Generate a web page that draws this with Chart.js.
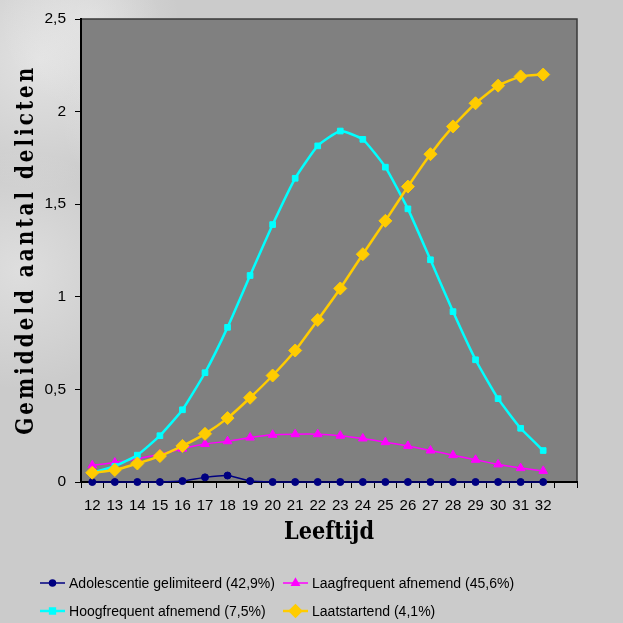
<!DOCTYPE html>
<html><head><meta charset="utf-8">
<script src="https://cdn.jsdelivr.net/npm/chart.js@4/dist/chart.umd.min.js"></script>
<style>html,body{margin:0;padding:0;background:#cccccc;}canvas{display:block;}</style>
</head><body>
<canvas id="c" width="623" height="623"></canvas>
<script>
const ages = ['12','13','14','15','16','17','18','19','20','21','22','23','24','25','26','27','28','29','30','31','32',''];
const adolescentie = [0,0,0,0,0.005,0.025,0.035,0.005,0,0,0,0,0,0,0,0,0,0,0,0,0];
const laagfrequent = [0.09,0.105,0.125,0.15,0.18,0.205,0.22,0.24,0.255,0.258,0.258,0.25,0.235,0.215,0.195,0.17,0.145,0.12,0.095,0.075,0.06];
const hoogfrequent = [0.05,0.085,0.145,0.25,0.39,0.59,0.835,1.115,1.39,1.64,1.815,1.895,1.85,1.70,1.475,1.20,0.92,0.66,0.45,0.29,0.17];
const laatstartend = [0.05,0.065,0.10,0.14,0.195,0.26,0.345,0.455,0.575,0.71,0.875,1.045,1.23,1.41,1.595,1.77,1.92,2.045,2.14,2.19,2.20];
const seriesNames = ['Adolescentie gelimiteerd (42,9%)','Laagfrequent afnemend (45,6%)','Hoogfrequent afnemend (7,5%)','Laatstartend (4,1%)'];
const xTitle = 'Leeftijd';
const yTitle = 'Gemiddeld aantal delicten';

const colors = ['#000080','#FF00FF','#00FFFF','#FFCC00'];
const styles = ['circle','triangle','rect','rectRot'];
const radii = [3.5,5,4,6.5];
const widths = [1.5,1.5,2.5,2.5];

const bgPlugin = {
  id:'bg',
  beforeDraw(chart){
    const ctx = chart.ctx, a = chart.chartArea;
    ctx.save();
    ctx.fillStyle = '#cbcbcb';
    ctx.fillRect(0,0,chart.width,chart.height);
    const blobs = [[40,60,130,0.55],[90,20,90,0.35],[20,270,120,0.45],[130,120,70,0.25]];
    for (const [x,y,r,al] of blobs){
      const g = ctx.createRadialGradient(x,y,0,x,y,r);
      g.addColorStop(0,'rgba(245,245,245,'+al+')');
      g.addColorStop(1,'rgba(245,245,245,0)');
      ctx.fillStyle = g;
      ctx.fillRect(0,0,chart.width,chart.height);
    }
    ctx.fillStyle = '#808080';
    ctx.fillRect(a.left,a.top,a.right-a.left,a.bottom-a.top);
    ctx.strokeStyle = '#3a3a3a';
    ctx.lineWidth = 1.5;
    ctx.beginPath();
    ctx.moveTo(a.left,a.top);ctx.lineTo(a.right,a.top);ctx.lineTo(a.right,a.bottom);
    ctx.stroke();
    ctx.restore();
    const ys = chart.scales.y, xs = chart.scales.x;
    if (ys && !ys.drawTitle.__w){
      const o = ys.drawTitle;
      ys.drawTitle = function(){
        const c = this.ctx; c.save();
        c.font = 'bold 25px "DejaVu Serif"';
        const s = 0.8, target = 370;
        const w = c.measureText(yTitle).width;
        const sp = (target/s - w)/(yTitle.length);
        c.letterSpacing = sp.toFixed(2)+'px';
        const cy = (this.top+this.bottom)/2 - 4;
        c.translate(0,cy); c.scale(1,s); c.translate(0,-cy);
        o.apply(this,arguments); c.restore();
      };
      ys.drawTitle.__w = true;
    }
    if (xs && !xs.drawTitle.__w){
      const o = xs.drawTitle;
      xs.drawTitle = function(){
        const c = this.ctx; c.save();
        c.font = 'bold 24px "DejaVu Serif"';
        const w = c.measureText(xTitle).width;
        const s = 90/w;
        const cx = (this.left+this.right)/2;
        c.translate(cx,0); c.scale(s,1); c.translate(-cx,0);
        o.apply(this,arguments); c.restore();
      };
      xs.drawTitle.__w = true;
    }
  }
};

const legendPlugin = {
  id:'customLegend',
  afterDraw(chart){
    const ctx = chart.ctx;
    ctx.save();
    ctx.font = '15.5px "Liberation Sans", Arial, sans-serif';
    const sx = 206/ctx.measureText(seriesNames[0]).width;
    const pos = [[40,583],[283,583],[40,611],[283,611]];
    seriesNames.forEach((name,i)=>{
      const [x,y] = pos[i];
      ctx.strokeStyle = colors[i]; ctx.lineWidth = widths[i];
      ctx.beginPath(); ctx.moveTo(x,y); ctx.lineTo(x+25,y); ctx.stroke();
      ctx.fillStyle = colors[i];
      Chart.helpers.drawPoint(ctx,{pointStyle:styles[i],radius:radii[i]*0.85,rotation:0,borderWidth:1},x+12.5,y);
      ctx.fill();
      ctx.save();
      ctx.translate(x+29,y+1); ctx.scale(sx,1);
      ctx.fillStyle = '#000'; ctx.textBaseline = 'middle'; ctx.textAlign='left';
      ctx.fillText(name,0,0);
      ctx.restore();
    });
    ctx.restore();
  }
};

const dataSeries = [adolescentie, laagfrequent, hoogfrequent, laatstartend];
const datasets = dataSeries.map((d,i)=>({
  label: seriesNames[i],
  data: d,
  borderColor: colors[i],
  backgroundColor: colors[i],
  borderWidth: widths[i],
  pointStyle: styles[i],
  pointRadius: radii[i],
  pointHoverRadius: radii[i],
  pointBorderWidth: 1,
  pointBorderColor: colors[i],
  pointBackgroundColor: colors[i],
  tension: 0.15,
  clip: false,
  order: 4-i
}));

new Chart(document.getElementById('c'), {
  type:'line',
  data:{labels: ages, datasets},
  options:{
    responsive:false,
    animation:false,
    events:[],
    layout:{padding:{left:0,right:46,top:19,bottom:76}},
    plugins:{legend:{display:false},tooltip:{enabled:false}},
    scales:{
      x:{
        type:'category',
        offset:true,
        grid:{offset:true,drawOnChartArea:false,drawTicks:true,tickLength:6,color:'#000',lineWidth:1},
        border:{display:true,color:'#000',width:2},
        ticks:{font:{family:'"Liberation Sans", Arial, sans-serif',size:15},color:'#000',padding:9,maxRotation:0,autoSkip:false},
        title:{display:true,text:xTitle,font:{family:'"DejaVu Serif"',size:24,weight:'bold'},color:'#000',padding:{top:0,bottom:0}},
        afterFit(s){s.height=65;}
      },
      y:{
        min:0,max:2.5,
        grid:{drawOnChartArea:false,drawTicks:true,tickLength:6,color:'#000',lineWidth:1},
        border:{display:true,color:'#000',width:2},
        ticks:{stepSize:0.5,font:{family:'"Liberation Sans", Arial, sans-serif',size:15.5},color:'#000',padding:9,
          callback:v=>String(v).replace('.',',')},
        title:{display:true,text:yTitle,font:{family:'"DejaVu Serif"',size:25,weight:'bold'},color:'#000',padding:{top:11,bottom:0}},
        afterFit(s){s.width=81;}
      }
    }
  },
  plugins:[bgPlugin,legendPlugin]
});
</script>
</body></html>
